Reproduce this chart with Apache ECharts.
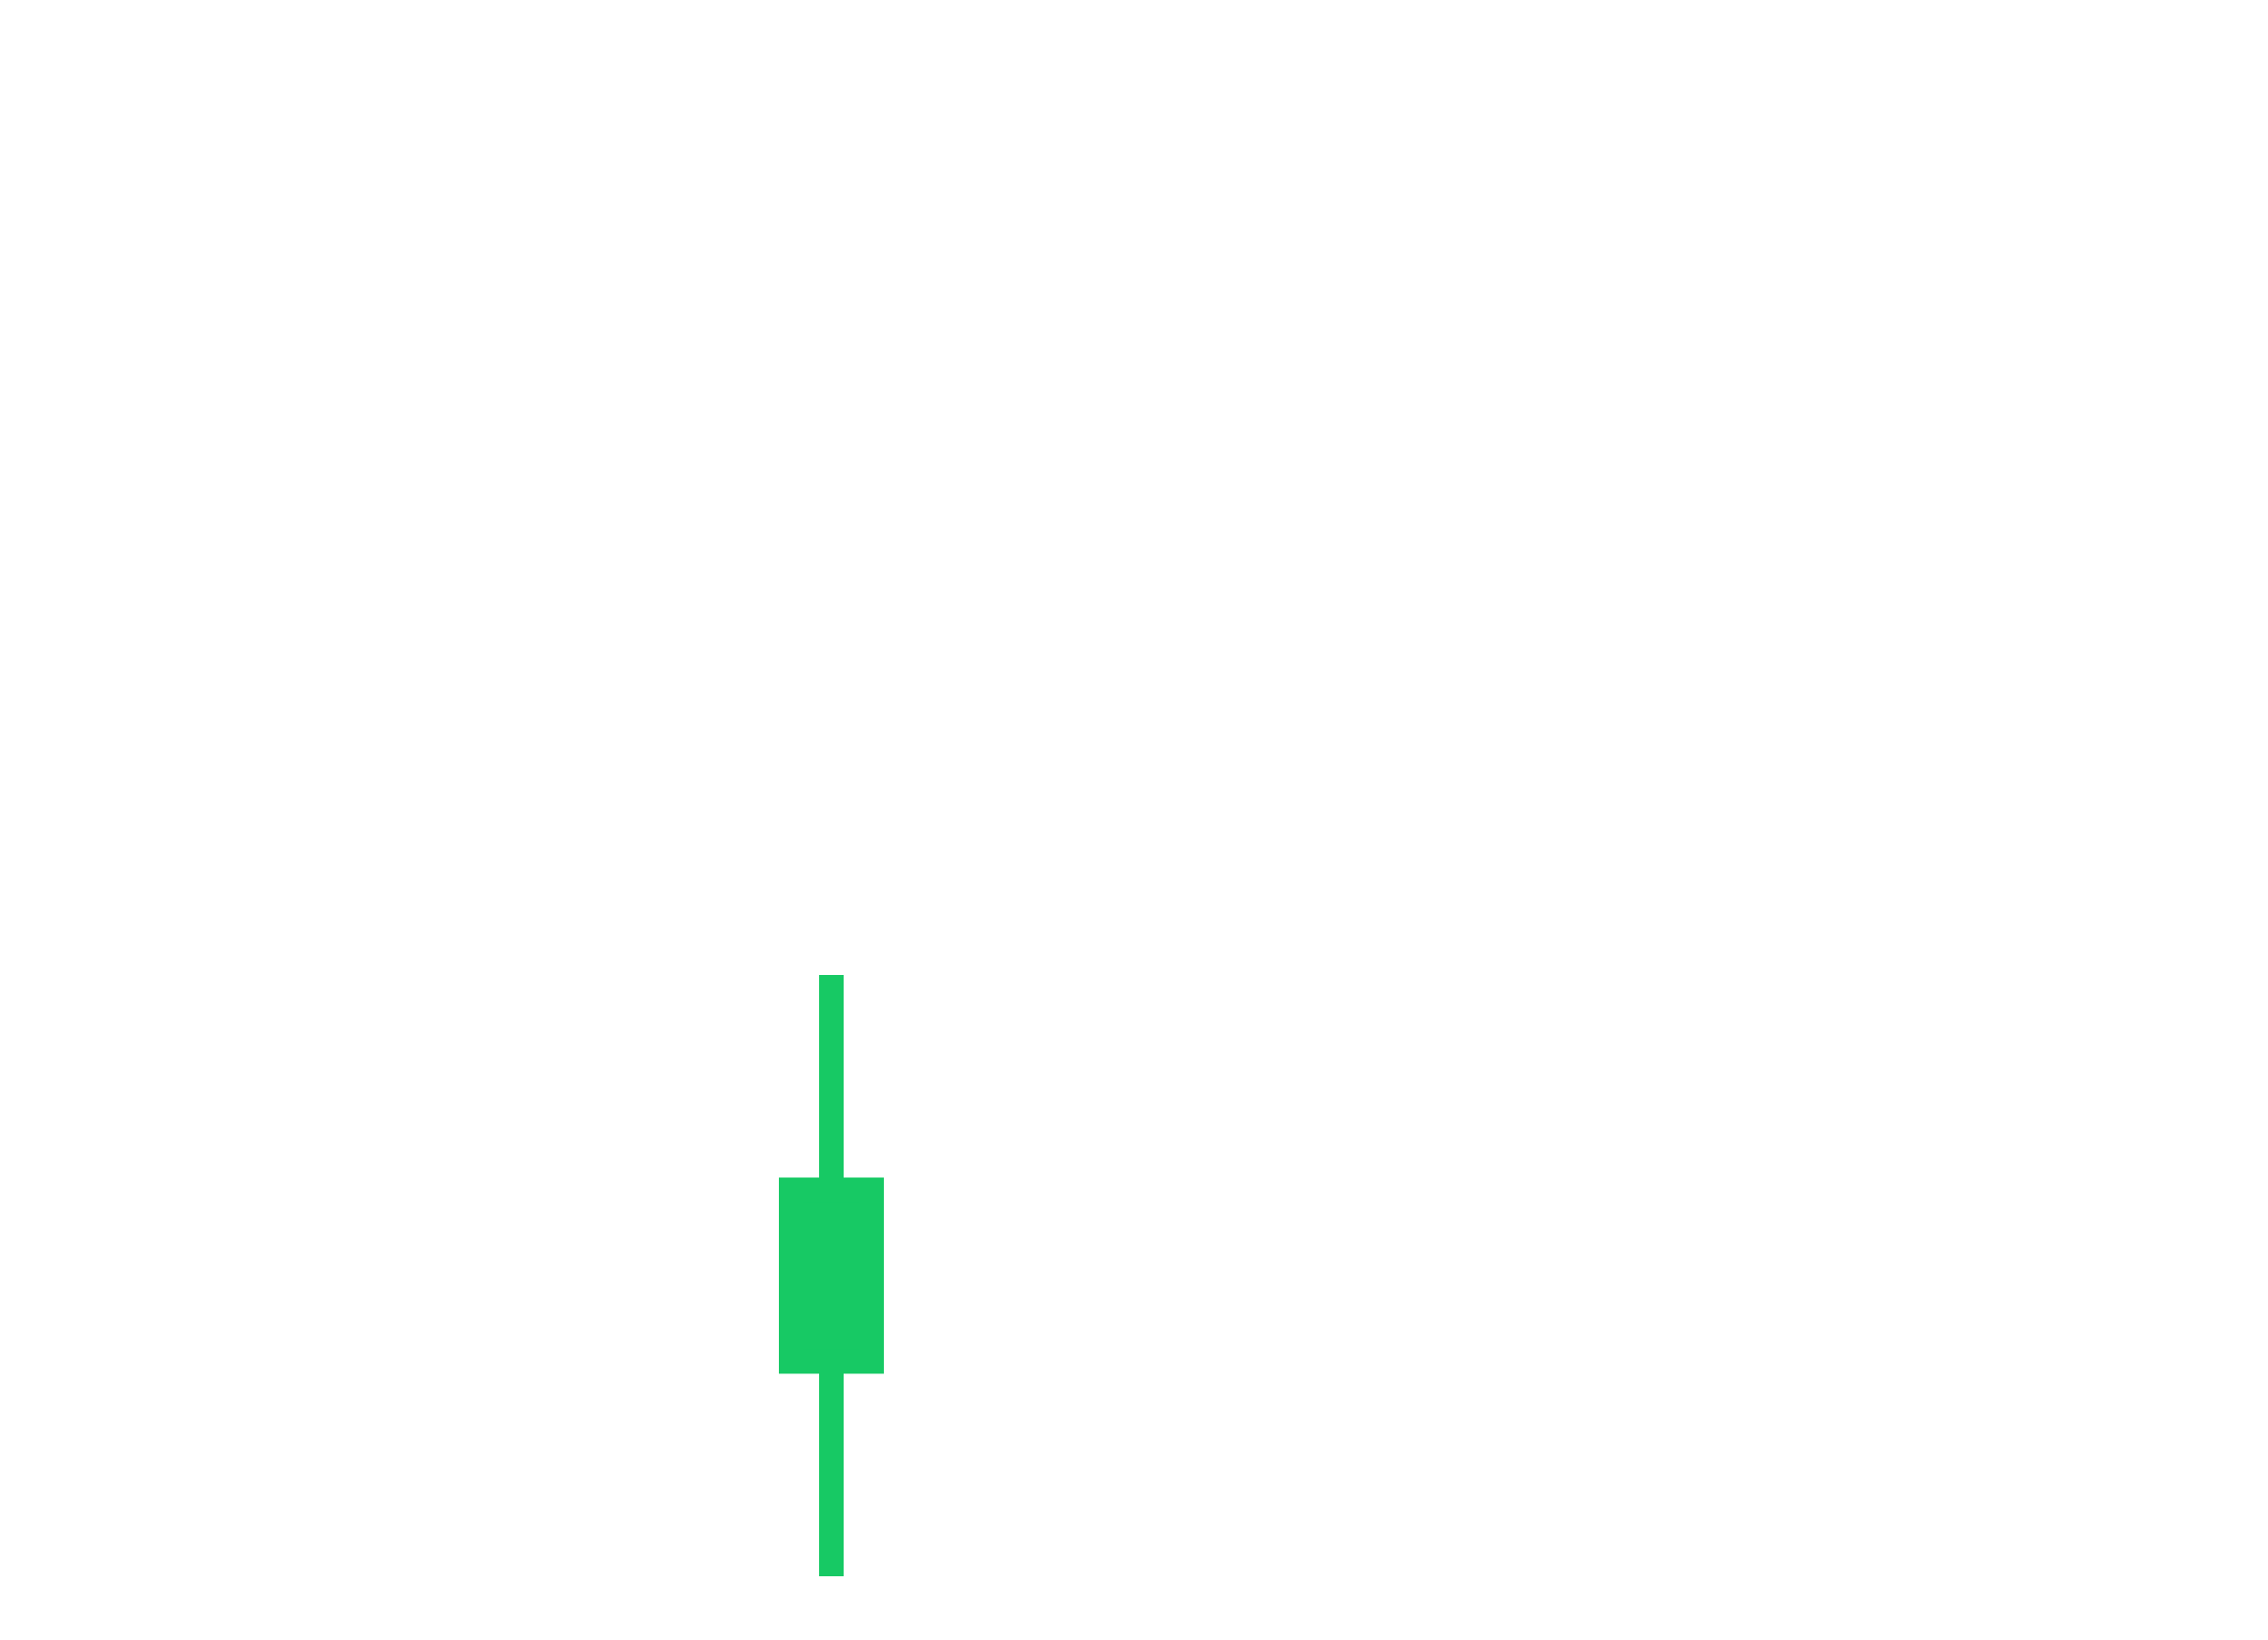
<!DOCTYPE html>
<html>
<head>
<meta charset="utf-8">
<script src="https://cdn.jsdelivr.net/npm/echarts@6/dist/echarts.min.js"></script>
<style>
html,body{margin:0;padding:0;background:#ffffff;}
#main{width:2312px;height:1672px;}
</style>
</head>
<body>
<div id="main"></div>
<script>
// Data
const categories = ['A'];
// [open, close, low, high]
const candleValues = [[125, 145, 100, 170]];

const chart = echarts.init(document.getElementById('main'), null, {renderer: 'canvas'});
chart.setOption({
  backgroundColor: '#ffffff',
  animation: false,
  grid: {left: 0, width: 1695, top: 31, bottom: 65},
  xAxis: {
    type: 'category',
    data: categories,
    show: false
  },
  yAxis: {
    type: 'value',
    min: 100,
    max: 280,
    show: false,
    splitLine: {show: false}
  },
  series: [{
    type: 'candlestick',
    data: candleValues,
    barWidth: 83,
    itemStyle: {
      color: '#17c964',
      color0: '#17c964',
      borderColor: '#17c964',
      borderColor0: '#17c964',
      borderWidth: 25
    }
  }]
});
</script>
</body>
</html>
